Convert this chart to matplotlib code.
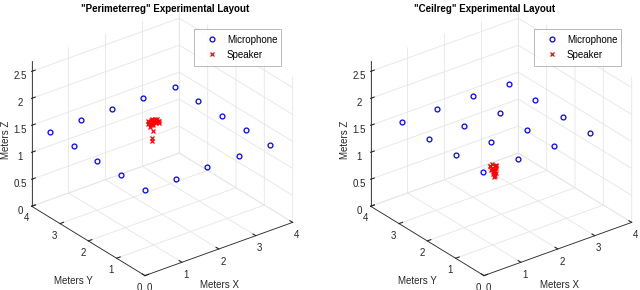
import numpy as np
import matplotlib
matplotlib.use('Agg')
import matplotlib.pyplot as plt

plt.rcParams['font.family'] = ['Liberation Sans', 'DejaVu Sans']
plt.rcParams['font.size'] = 7
plt.rcParams['grid.color'] = '#e6e6e6'
plt.rcParams['grid.linewidth'] = 0.6

# "Perimeterreg" layout
perim_mic_x = [0, 0.845, 1.69, 2.535, 3.38, 3.38, 3.38, 3.38, 3.38, 2.535, 1.69, 0.845, 0, 0, 0, 0]
perim_mic_y = [0, 0, 0, 0, 0, 0.84, 1.68, 2.52, 3.36, 3.36, 3.36, 3.36, 3.36, 2.52, 1.68, 0.84]
perim_mic_z = [1.59] * 16
perim_spk_x = [1.42, 1.48, 1.52, 1.56, 1.60, 1.64, 1.68, 1.72, 1.45, 1.50, 1.55, 1.60, 1.65, 1.70,
               1.47, 1.53, 1.58, 1.63, 1.68, 1.55, 1.56, 1.54, 1.53]
perim_spk_y = [1.75, 1.78, 1.72, 1.76, 1.74, 1.77, 1.73, 1.75, 1.70, 1.74, 1.78, 1.71, 1.76, 1.72,
               1.80, 1.79, 1.80, 1.78, 1.77, 1.75, 1.74, 1.76, 1.75]
perim_spk_z = [1.90, 1.91, 1.92, 1.90, 1.91, 1.89, 1.90, 1.88, 1.86, 1.87, 1.86, 1.88, 1.87, 1.86,
               1.93, 1.94, 1.93, 1.92, 1.92, 1.84, 1.73, 1.60, 1.55]

# "Ceilreg" layout
ceil_mic_x = [0.2, 1.16, 2.13, 3.09] * 4
ceil_mic_y = [0.3] * 4 + [1.25] * 4 + [2.21] * 4 + [3.16] * 4
ceil_mic_z = [1.78] * 16
ceil_spk_x = [1.48, 1.53, 1.58, 1.63, 1.50, 1.55, 1.60, 1.65, 1.52, 1.57, 1.62, 1.55, 1.60,
              1.56, 1.60, 1.58, 1.62, 1.50, 1.54]
ceil_spk_y = [1.70, 1.72, 1.68, 1.70, 1.66, 1.71, 1.69, 1.73, 1.72, 1.67, 1.70, 1.69, 1.72,
              1.70, 1.68, 1.71, 1.69, 1.74, 1.66]
ceil_spk_z = [1.12, 1.13, 1.11, 1.10, 1.08, 1.07, 1.09, 1.06, 1.03, 1.02, 1.04, 0.99, 0.98,
              0.95, 0.92, 0.89, 0.96, 1.10, 1.00]

titles = ['"Perimeterreg" Experimental Layout', '"Ceilreg" Experimental Layout']
datasets = [(perim_mic_x, perim_mic_y, perim_mic_z, perim_spk_x, perim_spk_y, perim_spk_z),
            (ceil_mic_x, ceil_mic_y, ceil_mic_z, ceil_spk_x, ceil_spk_y, ceil_spk_z)]

fig = plt.figure(figsize=(6.4, 2.9), dpi=100)
w = 0.52
rects = [[-0.013, -0.022, w, 1.04], [-0.013 + 339 / 640, -0.022, w, 1.04]]
title_x = [165.5 / 640, 485 / 640]
leg_x = [194 / 640, 534 / 640]
# axis label positions (pixels): X label, Y label, Z label
xlab_pos = [(220, 285), (559, 285)]
ylab_pos = [(73, 281), (417, 281)]
zlab_pos = [(6, 140), (345, 140)]
dark = '#262626'

for k in range(2):
    mx, my, mz, sx, sy, sz = datasets[k]
    ax = fig.add_axes(rects[k], projection='3d', proj_type='ortho')
    ax.plot(mx, my, mz, 'o', color='blue', mfc='none', ms=3.5, mew=0.9, ls='none', label='Microphone')
    ax.plot(sx, sy, sz, 'x', color='red', ms=3.5, mew=0.9, ls='none', label='Speaker')
    ax.set_xlim(0, 4)
    ax.set_ylim(0, 4)
    ax.set_zlim(0, 2.7)
    ax.set_xticks([0, 1, 2, 3, 4])
    ax.set_yticks([0, 1, 2, 3, 4])
    ax.set_zticks([0, 0.5, 1, 1.5, 2, 2.5])
    ax.set_zticklabels(['0', '0.5', '1', '1.5', '2', '2.5'])
    ax.view_init(elev=28, azim=-127.5)
    ax.set_box_aspect((1, 1, 0.886))
    for a in [ax.xaxis, ax.yaxis, ax.zaxis]:
        a.set_pane_color((1, 1, 1, 0))
        a.pane.set_edgecolor('#e6e6e6')
        a.line.set_color(dark)
        a.line.set_linewidth(0.6)
        a.set_tick_params(colors=dark, labelsize=7, pad=-4)
        a._axinfo['tick']['inward_factor'] = 0.0
        a._axinfo['tick']['outward_factor'] = 0.3
    ax.zaxis.set_tick_params(pad=-3)
    ax.patch.set_alpha(0)
    leg = ax.legend(loc='upper left', bbox_to_anchor=(leg_x[k], 1 - 63 / 290, 87 / 640, 34 / 290),
                    bbox_transform=fig.transFigure, mode='expand', fancybox=False,
                    edgecolor='#999999', fontsize=7, handlelength=2.6, handletextpad=0.2,
                    borderpad=0.6, labelspacing=0.5, borderaxespad=0)
    leg.get_frame().set_linewidth(0.6)
    fig.text(title_x[k], 0.985, titles[k], ha='center', va='top', fontsize=7,
             fontweight='bold', color='black')
    fig.text(xlab_pos[k][0] / 640, 1 - xlab_pos[k][1] / 290, 'Meters X', ha='center', va='center',
             fontsize=7, color=dark)
    fig.text(ylab_pos[k][0] / 640, 1 - ylab_pos[k][1] / 290, 'Meters Y', ha='center', va='center',
             fontsize=7, color=dark)
    fig.text(zlab_pos[k][0] / 640, 1 - zlab_pos[k][1] / 290, 'Meters Z', ha='center', va='center',
             rotation=90, fontsize=7, color=dark)

fig.savefig('out.png', dpi=100)
